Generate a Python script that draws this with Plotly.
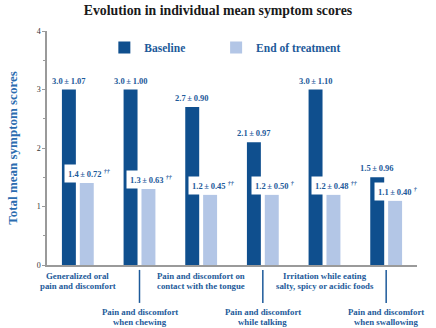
import plotly.graph_objects as go

# Symptom categories, each as two label lines
categories = [
    ["Generalized oral", "pain and discomfort"],
    ["Pain and discomfort", "when chewing"],
    ["Pain and discomfort on", "contact with the tongue"],
    ["Pain and discomfort", "while talking"],
    ["Irritation while eating", "salty, spicy or acidic foods"],
    ["Pain and discomfort", "when swallowing"],
]
baseline_mean = [3.0, 3.0, 2.7, 2.1, 3.0, 1.5]
baseline_sd = [1.07, 1.00, 0.90, 0.97, 1.10, 0.96]
end_mean = [1.4, 1.3, 1.2, 1.2, 1.2, 1.1]
end_sd = [0.72, 0.63, 0.45, 0.50, 0.48, 0.40]
end_sig = ["††", "††", "††", "†", "††", "†"]
y_ticks = [0, 1, 2, 3, 4]

DARK = "#0f4f8e"
LIGHT = "#b3c6e6"
TEXT_BLUE = "#1d5a9a"
TITLE_BLUE = "#2b6cb0"
AXIS_GRAY = "#9a9a9a"
SERIF = "Liberation Serif"
TS = "\u2009"  # thin space around the ± sign
PAD = "\u00a0" * 9  # extra room after the first legend entry

keys = list(range(len(categories)))

fig = go.Figure()
fig.add_trace(go.Bar(name=f"<b>Baseline</b>{PAD}", x=keys, y=baseline_mean,
                     marker=dict(color=DARK, line=dict(width=0))))
fig.add_trace(go.Bar(name="<b>End of treatment</b>", x=keys, y=end_mean,
                     marker=dict(color=LIGHT, line=dict(width=0))))

annotations = []
# value labels above baseline bars
for k, m, s in zip(keys, baseline_mean, baseline_sd):
    annotations.append(dict(
        x=k, y=m, xref="x", yref="y", xshift=-9, yshift=2,
        text=f"<b>{m:.1f}{TS}±{TS}{s:.2f}</b>", showarrow=False,
        yanchor="bottom", xanchor="center",
        font=dict(family=SERIF, size=8.5, color=TEXT_BLUE)))
# value labels for end of treatment, in white boxes
for k, m, s, sig in zip(keys, end_mean, end_sd, end_sig):
    annotations.append(dict(
        x=k, y=m, xref="x", yref="y", xshift=12, yshift=0,
        text=f"<b>{m:.1f}{TS}±{TS}{s:.2f}</b> <sup><i><b>{sig}</b></i></sup>",
        showarrow=False, yanchor="bottom", xanchor="center",
        bgcolor="white", borderpad=3,
        font=dict(family=SERIF, size=8.5, color=TEXT_BLUE)))
# category labels, alternating between an upper and a lower row
shapes = []
for i, (k, lines) in enumerate(zip(keys, categories)):
    lower = i % 2 == 1
    base = -47 if lower else -11
    for j, line in enumerate(lines):
        annotations.append(dict(
            x=k, y=0, xref="x", yref="y", yshift=base - 10 * j,
            text=f"<b>{line}</b>", showarrow=False,
            yanchor="middle", xanchor="center",
            font=dict(family=SERIF, size=8.8, color=TEXT_BLUE)))
    if lower:
        shapes.append(dict(type="line", xref="x", yref="paper",
                           x0=k, x1=k, y0=-0.021, y1=-0.162,
                           line=dict(color=TEXT_BLUE, width=1.5)))

fig.update_layout(
    width=436, height=328,
    margin=dict(l=43, r=19, t=31, b=63),
    paper_bgcolor="white", plot_bgcolor="white",
    barmode="group", bargap=0.42, bargroupgap=0.22,
    title=dict(text="<b>Evolution in individual mean symptom scores</b>",
               x=0.5, xanchor="center", y=0.985, yanchor="top",
               font=dict(family=SERIF, size=13.8, color="#1a1a1a")),
    showlegend=True,
    legend=dict(orientation="h", x=0.155, xanchor="left", y=0.93,
                yanchor="middle", bgcolor="rgba(0,0,0,0)",
                font=dict(family=SERIF, size=11.5, color=TEXT_BLUE),
                itemwidth=30, traceorder="normal"),
    xaxis=dict(range=[-0.5, len(categories) - 0.5], showticklabels=False,
               ticks="", showline=True, linecolor=AXIS_GRAY, linewidth=2,
               showgrid=False, zeroline=False, fixedrange=True),
    yaxis=dict(range=[0, 4], tickvals=y_ticks, showgrid=False, zeroline=False,
               showline=True, linecolor=AXIS_GRAY, linewidth=1.5,
               ticks="outside", ticklen=3, tickcolor=AXIS_GRAY, tickwidth=1,
               minor=dict(dtick=0.5, ticks="outside", ticklen=2,
                          tickcolor=AXIS_GRAY, tickwidth=1),
               tickfont=dict(family=SERIF, size=8, color="#333333"),
               title=dict(text="<b>Total mean symptom scores</b>", standoff=16,
                          font=dict(family=SERIF, size=13, color=TITLE_BLUE))),
    annotations=annotations, shapes=shapes,
)

fig.write_html("out.html")
